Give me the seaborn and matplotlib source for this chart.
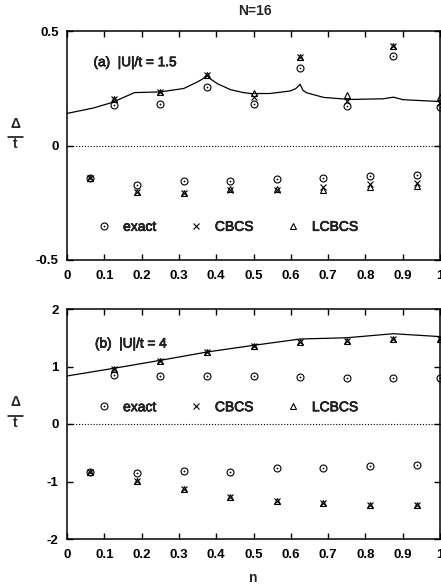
import matplotlib
matplotlib.use("Agg")
import matplotlib.pyplot as plt
import matplotlib.patheffects as pe
from matplotlib.lines import Line2D
from matplotlib.ticker import FormatStrFormatter
import pandas as pd
import seaborn as sns

sns.set_theme(style="white")
plt.rcParams['font.family'] = ['Liberation Sans', 'DejaVu Sans']
plt.rcParams.update({
    'axes.unicode_minus': False,
    'axes.edgecolor': 'black',
    'axes.linewidth': 1.1,
    'xtick.direction': 'in', 'ytick.direction': 'in',
    'xtick.top': True, 'ytick.right': True,
    'xtick.bottom': True, 'ytick.left': True,
    'xtick.major.size': 4, 'ytick.major.size': 4,
    'xtick.major.width': 1.0, 'ytick.major.width': 1.0,
    'xtick.color': 'black', 'ytick.color': 'black',
})

# filling n = N_e / (2 * 16)
n_even = [0.125, 0.25, 0.375, 0.5, 0.625, 0.75, 0.875, 1.0]
n_odd = [0.0625, 0.1875, 0.3125, 0.4375, 0.5625, 0.6875, 0.8125, 0.9375]

# (a) |U|/t = 1.5
a_exact_even = [0.175, 0.180, 0.256, 0.180, 0.340, 0.172, 0.393, 0.169]
a_cbcs_even = [0.202, 0.234, 0.307, 0.212, 0.386, 0.195, 0.433, 0.186]
a_lcbcs_even = [0.202, 0.234, 0.307, 0.231, 0.386, 0.220, 0.433, 0.210]
a_exact_odd = [-0.140, -0.172, -0.153, -0.153, -0.146, -0.140, -0.135, -0.130]
a_cbcs_odd = [-0.140, -0.205, -0.208, -0.196, -0.193, -0.182, -0.168, -0.165]
a_lcbcs_odd = [-0.140, -0.205, -0.208, -0.190, -0.190, -0.195, -0.180, -0.178]
a_bulk_n = [0.0, 0.0715, 0.121, 0.181, 0.25, 0.313, 0.349, 0.365, 0.375,
            0.385, 0.403, 0.438, 0.47, 0.491, 0.544, 0.598, 0.613, 0.625,
            0.633, 0.643, 0.688, 0.759, 0.848, 0.875, 0.901, 1.0]
a_bulk = [0.140, 0.164, 0.188, 0.231, 0.234, 0.249, 0.277, 0.292, 0.307,
          0.290, 0.270, 0.244, 0.232, 0.227, 0.227, 0.238, 0.248, 0.267,
          0.240, 0.230, 0.210, 0.201, 0.204, 0.211, 0.200, 0.192]

# (b) |U|/t = 4
b_exact_even = [0.850, 0.840, 0.835, 0.835, 0.823, 0.806, 0.806, 0.806]
b_cbcs_even = [0.950, 1.096, 1.247, 1.357, 1.420, 1.450, 1.478, 1.470]
b_lcbcs_even = [0.950, 1.096, 1.247, 1.357, 1.420, 1.450, 1.478, 1.470]
b_exact_odd = [-0.840, -0.858, -0.817, -0.829, -0.771, -0.771, -0.725, -0.713]
b_cbcs_odd = [-0.840, -0.986, -1.130, -1.264, -1.333, -1.380, -1.410, -1.410]
b_lcbcs_odd = [-0.840, -0.986, -1.130, -1.264, -1.333, -1.380, -1.410, -1.410]
b_bulk_n = [0.0, 0.125, 0.25, 0.375, 0.5, 0.625, 0.75, 0.875, 1.0]
b_bulk = [0.835, 0.968, 1.107, 1.252, 1.368, 1.478, 1.500, 1.570, 1.520]

x_ticks = [0, 0.1, 0.2, 0.3, 0.4, 0.5, 0.6, 0.7, 0.8, 0.9, 1.0]
legend_labels = ['exact', 'CBCS', 'LCBCS']

W, H = 441, 586
fig = plt.figure(figsize=(W / 100, H / 100), dpi=100)
ax_a = fig.add_axes([67 / W, 1 - 260 / H, 373 / W, 229 / H])
ax_b = fig.add_axes([67 / W, 1 - 539 / H, 373 / W, 230 / H])

TICK_FS = 9.5
MS = 4.6
MEW = 0.8
HEAVY = [pe.withStroke(linewidth=0.5, foreground='black')]


def draw_points(ax, n, exact, cbcs, lcbcs):
    df = pd.DataFrame({'n': n, 'exact': exact, 'cbcs': cbcs, 'lcbcs': lcbcs})
    common = dict(ax=ax, linestyle='', color='black', errorbar=None)
    sns.lineplot(data=df, x='n', y='lcbcs', marker='^', markersize=MS,
                 markerfacecolor='none', markeredgecolor='black',
                 markeredgewidth=MEW, **common)
    sns.lineplot(data=df, x='n', y='cbcs', marker='x', markersize=MS,
                 markeredgecolor='black', markeredgewidth=MEW, **common)
    sns.lineplot(data=df, x='n', y='exact', marker='o', markersize=MS + 0.4,
                 markerfacecolor='none', markeredgecolor='black',
                 markeredgewidth=MEW, **common)
    sns.lineplot(data=df, x='n', y='exact', marker='o', markersize=1.3,
                 markerfacecolor='black', markeredgecolor='black',
                 markeredgewidth=0, **common)


def legend_handles():
    circ = Line2D([], [], ls='', marker='o', ms=MS + 0.4, mfc='none', mec='black', mew=MEW)
    dot = Line2D([], [], ls='', marker='o', ms=1.3, mfc='black', mec='black', mew=0)
    cross = Line2D([], [], ls='', marker='x', ms=MS, mec='black', mew=MEW)
    tri = Line2D([], [], ls='', marker='^', ms=MS, mfc='none', mec='black', mew=MEW)
    return [(circ, dot), cross, tri]


def style_axes(ax, ylim, yticks):
    ax.set_xlim(0, 1)
    ax.set_ylim(*ylim)
    ax.set_xticks(x_ticks)
    ax.xaxis.set_major_formatter(FormatStrFormatter('%g'))
    ax.set_yticks(yticks)
    ax.yaxis.set_major_formatter(FormatStrFormatter('%g'))
    ax.set_xlabel('')
    ax.set_ylabel('')
    ax.axhline(0, color='black', lw=0.8, ls=(0, (1, 1.6)), zorder=1)
    ax.tick_params(axis='x', pad=7, labelsize=TICK_FS)
    ax.tick_params(axis='y', pad=6, labelsize=TICK_FS)
    for lab in ax.get_xticklabels() + ax.get_yticklabels():
        lab.set_fontweight('bold')
    for sp in ax.spines.values():
        sp.set_visible(True)
        sp.set_color('black')
        sp.set_linewidth(1.1)


def add_legend(ax, y_anchor):
    leg = ax.legend(legend_handles(), legend_labels, ncol=3, frameon=False,
                    loc='center left', bbox_to_anchor=(0.081, y_anchor),
                    borderpad=0, borderaxespad=0, handlelength=1.0,
                    handletextpad=0.86, columnspacing=2.35, fontsize=10)
    for txt in leg.get_texts():
        txt.set_path_effects(HEAVY)


# panel (a)
sns.lineplot(x=a_bulk_n, y=a_bulk, ax=ax_a, color='black', lw=0.9, errorbar=None)
draw_points(ax_a, n_even, a_exact_even, a_cbcs_even, a_lcbcs_even)
draw_points(ax_a, n_odd, a_exact_odd, a_cbcs_odd, a_lcbcs_odd)
style_axes(ax_a, (-0.5, 0.5), [-0.5, 0, 0.5])
add_legend(ax_a, 0.145)
ax_a.text(0.071, 0.364, '(a)  |U|/t = 1.5', fontsize=9.8, va='center', ha='left',
          path_effects=HEAVY)

# panel (b)
sns.lineplot(x=b_bulk_n, y=b_bulk, ax=ax_b, color='black', lw=0.9, errorbar=None)
draw_points(ax_b, n_even, b_exact_even, b_cbcs_even, b_lcbcs_even)
draw_points(ax_b, n_odd, b_exact_odd, b_cbcs_odd, b_lcbcs_odd)
style_axes(ax_b, (-2, 2), [-2, -1, 0, 1, 2])
add_legend(ax_b, 0.573)
ax_b.text(0.075, 1.40, '(b)  |U|/t = 4', fontsize=9.8, va='center', ha='left',
          path_effects=HEAVY)

# figure title and axis labels
fig.text(255 / W, 1 - 11 / H, 'N=16', ha='center', va='center',
         fontsize=10, fontweight='bold')
fig.text(253.5 / W, 1 - 578 / H, 'n', ha='center', va='center',
         fontsize=10, fontweight='bold')

for y_bar in (137, 415.5):
    fig.text(15.5 / W, 1 - (y_bar - 13) / H, 'Δ', ha='center', va='center',
             fontsize=10, fontweight='bold')
    fig.text(15.5 / W, 1 - (y_bar + 7.5) / H, 't', ha='center', va='center',
             fontsize=10, fontweight='bold')
    fig.add_artist(Line2D([8 / W, 23 / W], [1 - y_bar / H] * 2,
                          transform=fig.transFigure, color='black', lw=1.1))

fig.savefig('out.png', dpi=100)
